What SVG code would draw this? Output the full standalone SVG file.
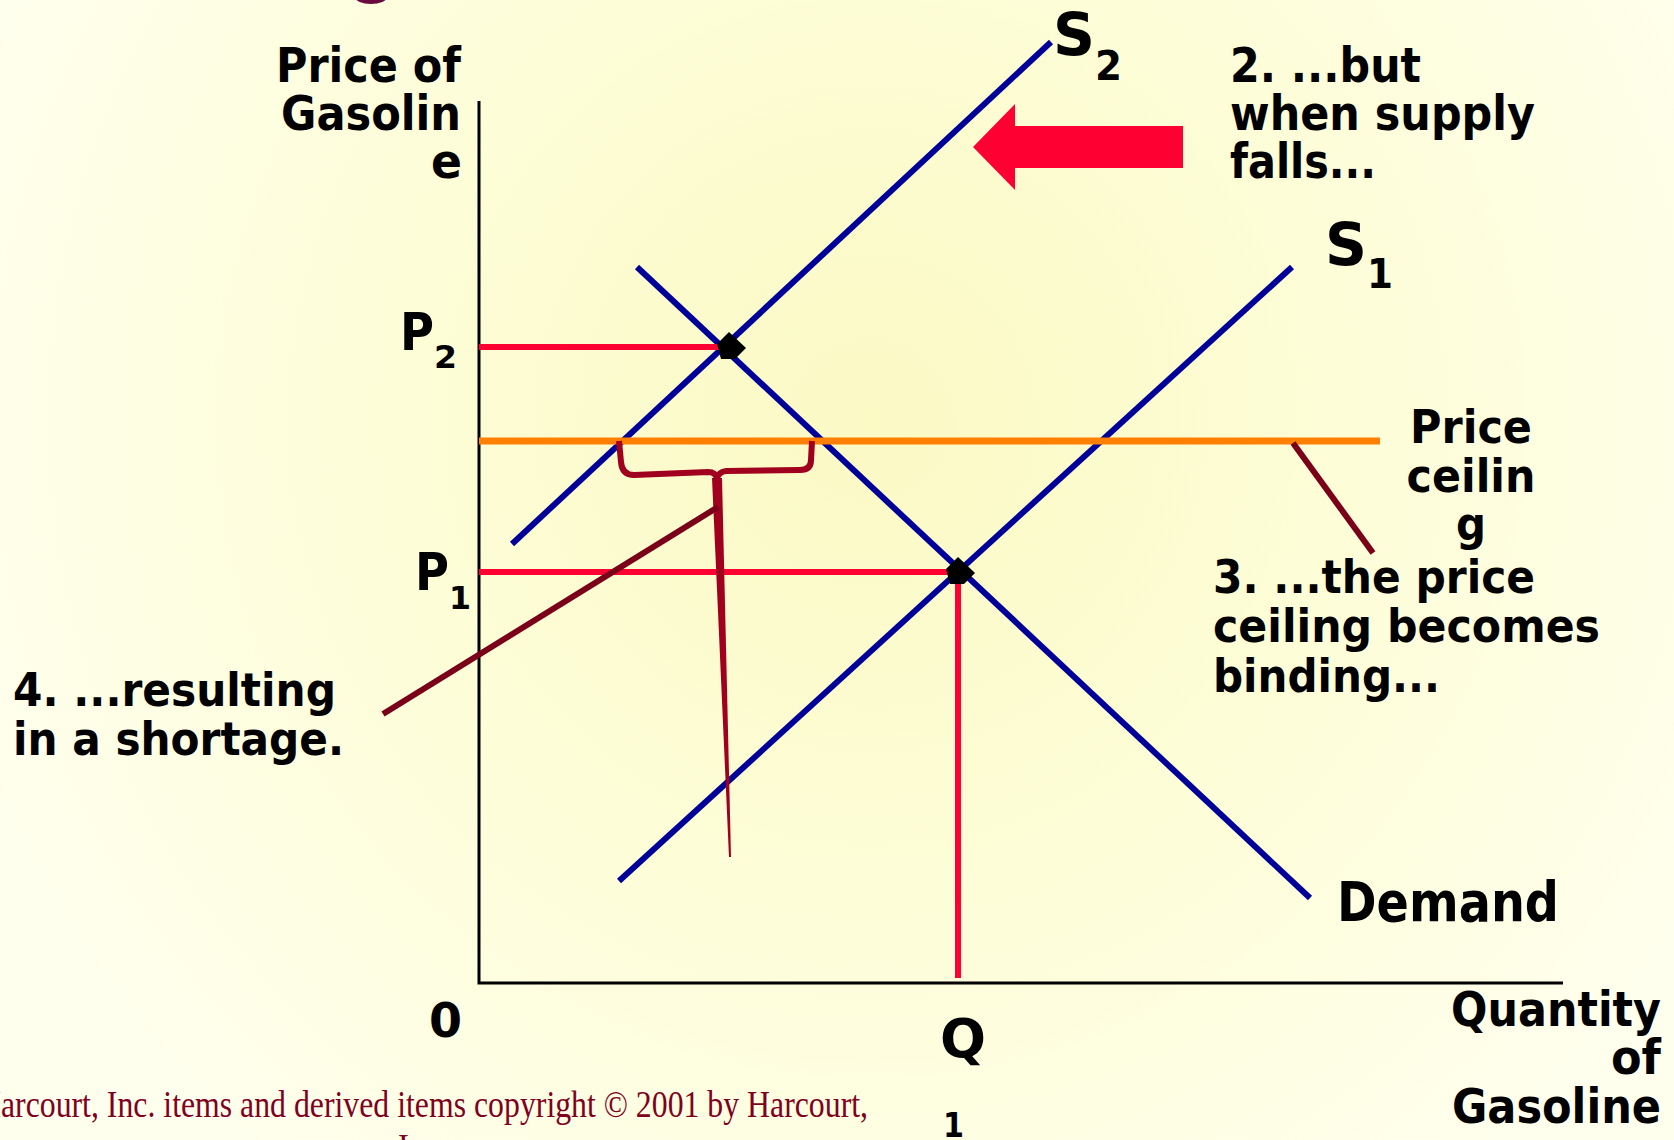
<svg xmlns="http://www.w3.org/2000/svg" width="1674" height="1140" viewBox="0 0 1674 1140">
  <defs>
    <radialGradient id="bg" cx="870" cy="420" r="980" gradientUnits="userSpaceOnUse">
      <stop offset="0" stop-color="#FBF9C4"/>
      <stop offset="0.5" stop-color="#FDFDD8"/>
      <stop offset="1" stop-color="#FFFFEE"/>
    </radialGradient>
    <polygon id="dot" points="-2,-15 15,1 4,12 -10,12 -14,-3" fill="#000"/>
  </defs>
  <style>
    .lbl { font-family: "DejaVu Sans", "Verdana", sans-serif; font-weight: bold; fill: #000; }
    .copy { font-family: "Liberation Serif", "Times New Roman", serif; fill: #800020; }
    .axis { stroke: #000; stroke-width: 3; fill: none; }
    .curve { stroke: #000099; stroke-width: 6; fill: none; }
    .guide { stroke: #FF0033; stroke-width: 6; fill: none; }
    .ceil { stroke: #FF8000; stroke-width: 7; fill: none; }
    .pointer { stroke: #7A0019; stroke-width: 6; fill: none; }
    .brace { stroke: #A0001E; stroke-width: 6; fill: none; stroke-linejoin: round; }
  </style>

  <rect x="0" y="0" width="1674" height="1140" fill="url(#bg)"/>
  <ellipse cx="371" cy="-3" rx="16" ry="7" fill="#6B0A3F"/>

  <g id="connectors">
    <path class="axis" d="M479,101 V983 H1563"/>
    <line class="curve" x1="512" y1="544" x2="1051" y2="42"/>
    <line class="curve" x1="619" y1="881" x2="1292" y2="267"/>
    <line class="curve" x1="637" y1="267" x2="1310" y2="898"/>
    <line class="ceil" x1="479" y1="441" x2="1380" y2="441"/>
    <line class="guide" x1="479" y1="347" x2="722" y2="347"/>
    <line class="guide" x1="479" y1="572" x2="952" y2="572"/>
    <line class="guide" x1="958" y1="572" x2="958" y2="978"/>
    <path class="brace" d="M619,441 L621,462 Q622,475 634,475 L708,472 Q716,472 717,479 Q718,472 726,471 L800,470 Q811,470 811,460 L812,441"/>
    <polygon points="712,478 722,478 731,857 729,857" fill="#A0001E"/>
    <line class="pointer" x1="383" y1="714" x2="718" y2="507"/>
    <line class="pointer" x1="1293" y1="443" x2="1373" y2="553"/>
    <polygon points="973,147 1015,104 1015,126 1183,126 1183,168 1015,168 1015,190" fill="#FF0033"/>
  </g>

  <g id="eq2"><use href="#dot" x="731" y="347"/></g>
  <g id="eq1"><use href="#dot" x="960" y="572"/></g>

  <g id="y-label">
    <text class="lbl" font-size="48" x="461" y="82" text-anchor="end" textLength="185" lengthAdjust="spacingAndGlyphs">Price of</text>
    <text class="lbl" font-size="48" x="461" y="130" text-anchor="end" textLength="180" lengthAdjust="spacingAndGlyphs">Gasolin</text>
    <text class="lbl" font-size="48" x="462" y="178" text-anchor="end" textLength="31" lengthAdjust="spacingAndGlyphs">e</text>
  </g>

  <g id="p2">
    <text class="lbl" font-size="52" x="400" y="350" textLength="34" lengthAdjust="spacingAndGlyphs">P</text>
    <text class="lbl" font-size="32" x="434" y="368" textLength="23" lengthAdjust="spacingAndGlyphs">2</text>
  </g>
  <g id="p1">
    <text class="lbl" font-size="52" x="415" y="590" textLength="34" lengthAdjust="spacingAndGlyphs">P</text>
    <text class="lbl" font-size="32" x="449" y="609" textLength="22" lengthAdjust="spacingAndGlyphs">1</text>
  </g>

  <g id="s2">
    <text class="lbl" font-size="58" x="1053" y="55" textLength="42" lengthAdjust="spacingAndGlyphs">S</text>
    <text class="lbl" font-size="41" x="1095" y="80" textLength="27" lengthAdjust="spacingAndGlyphs">2</text>
  </g>
  <g id="s1">
    <text class="lbl" font-size="58" x="1325" y="265" textLength="42" lengthAdjust="spacingAndGlyphs">S</text>
    <text class="lbl" font-size="41" x="1367" y="288" textLength="26" lengthAdjust="spacingAndGlyphs">1</text>
  </g>

  <g id="note2">
    <text class="lbl" font-size="48" x="1230" y="82" textLength="191" lengthAdjust="spacingAndGlyphs">2. ...but</text>
    <text class="lbl" font-size="48" x="1230" y="130" textLength="305" lengthAdjust="spacingAndGlyphs">when supply</text>
    <text class="lbl" font-size="48" x="1230" y="178" textLength="146" lengthAdjust="spacingAndGlyphs">falls...</text>
  </g>

  <g id="ceiling-label">
    <text class="lbl" font-size="47" x="1471" y="443" text-anchor="middle" textLength="122" lengthAdjust="spacingAndGlyphs">Price</text>
    <text class="lbl" font-size="47" x="1471" y="492" text-anchor="middle" textLength="129" lengthAdjust="spacingAndGlyphs">ceilin</text>
    <text class="lbl" font-size="47" x="1471" y="540" text-anchor="middle" textLength="30" lengthAdjust="spacingAndGlyphs">g</text>
  </g>

  <g id="note3">
    <text class="lbl" font-size="47" x="1213" y="593" textLength="322" lengthAdjust="spacingAndGlyphs">3. ...the price</text>
    <text class="lbl" font-size="47" x="1213" y="642" textLength="387" lengthAdjust="spacingAndGlyphs">ceiling becomes</text>
    <text class="lbl" font-size="47" x="1213" y="692" textLength="227" lengthAdjust="spacingAndGlyphs">binding...</text>
  </g>

  <g id="note4">
    <text class="lbl" font-size="47" x="13" y="706" textLength="323" lengthAdjust="spacingAndGlyphs">4. ...resulting</text>
    <text class="lbl" font-size="47" x="13" y="755" textLength="331" lengthAdjust="spacingAndGlyphs">in a shortage.</text>
  </g>

  <g id="demand">
    <text class="lbl" font-size="55" x="1337" y="921" textLength="222" lengthAdjust="spacingAndGlyphs">Demand</text>
  </g>

  <g id="x-label">
    <text class="lbl" font-size="48" x="1661" y="1026" text-anchor="end" textLength="210" lengthAdjust="spacingAndGlyphs">Quantity</text>
    <text class="lbl" font-size="48" x="1661" y="1074" text-anchor="end" textLength="50" lengthAdjust="spacingAndGlyphs">of</text>
    <text class="lbl" font-size="48" x="1661" y="1123" text-anchor="end" textLength="209" lengthAdjust="spacingAndGlyphs">Gasoline</text>
  </g>

  <g id="origin">
    <text class="lbl" font-size="48" x="429" y="1037" textLength="33" lengthAdjust="spacingAndGlyphs">0</text>
  </g>

  <g id="q1">
    <text class="lbl" font-size="54" x="940" y="1057" textLength="46" lengthAdjust="spacingAndGlyphs">Q</text>
    <text class="lbl" font-size="33" x="943" y="1137" textLength="21" lengthAdjust="spacingAndGlyphs">1</text>
  </g>

  <g id="copyright">
    <text class="copy" font-size="38" x="-22" y="1117" textLength="890" lengthAdjust="spacingAndGlyphs">Harcourt, Inc. items and derived items copyright © 2001 by Harcourt,</text>
    <text class="copy" font-size="38" x="398" y="1160" textLength="49" lengthAdjust="spacingAndGlyphs">Inc.</text>
  </g>
</svg>
